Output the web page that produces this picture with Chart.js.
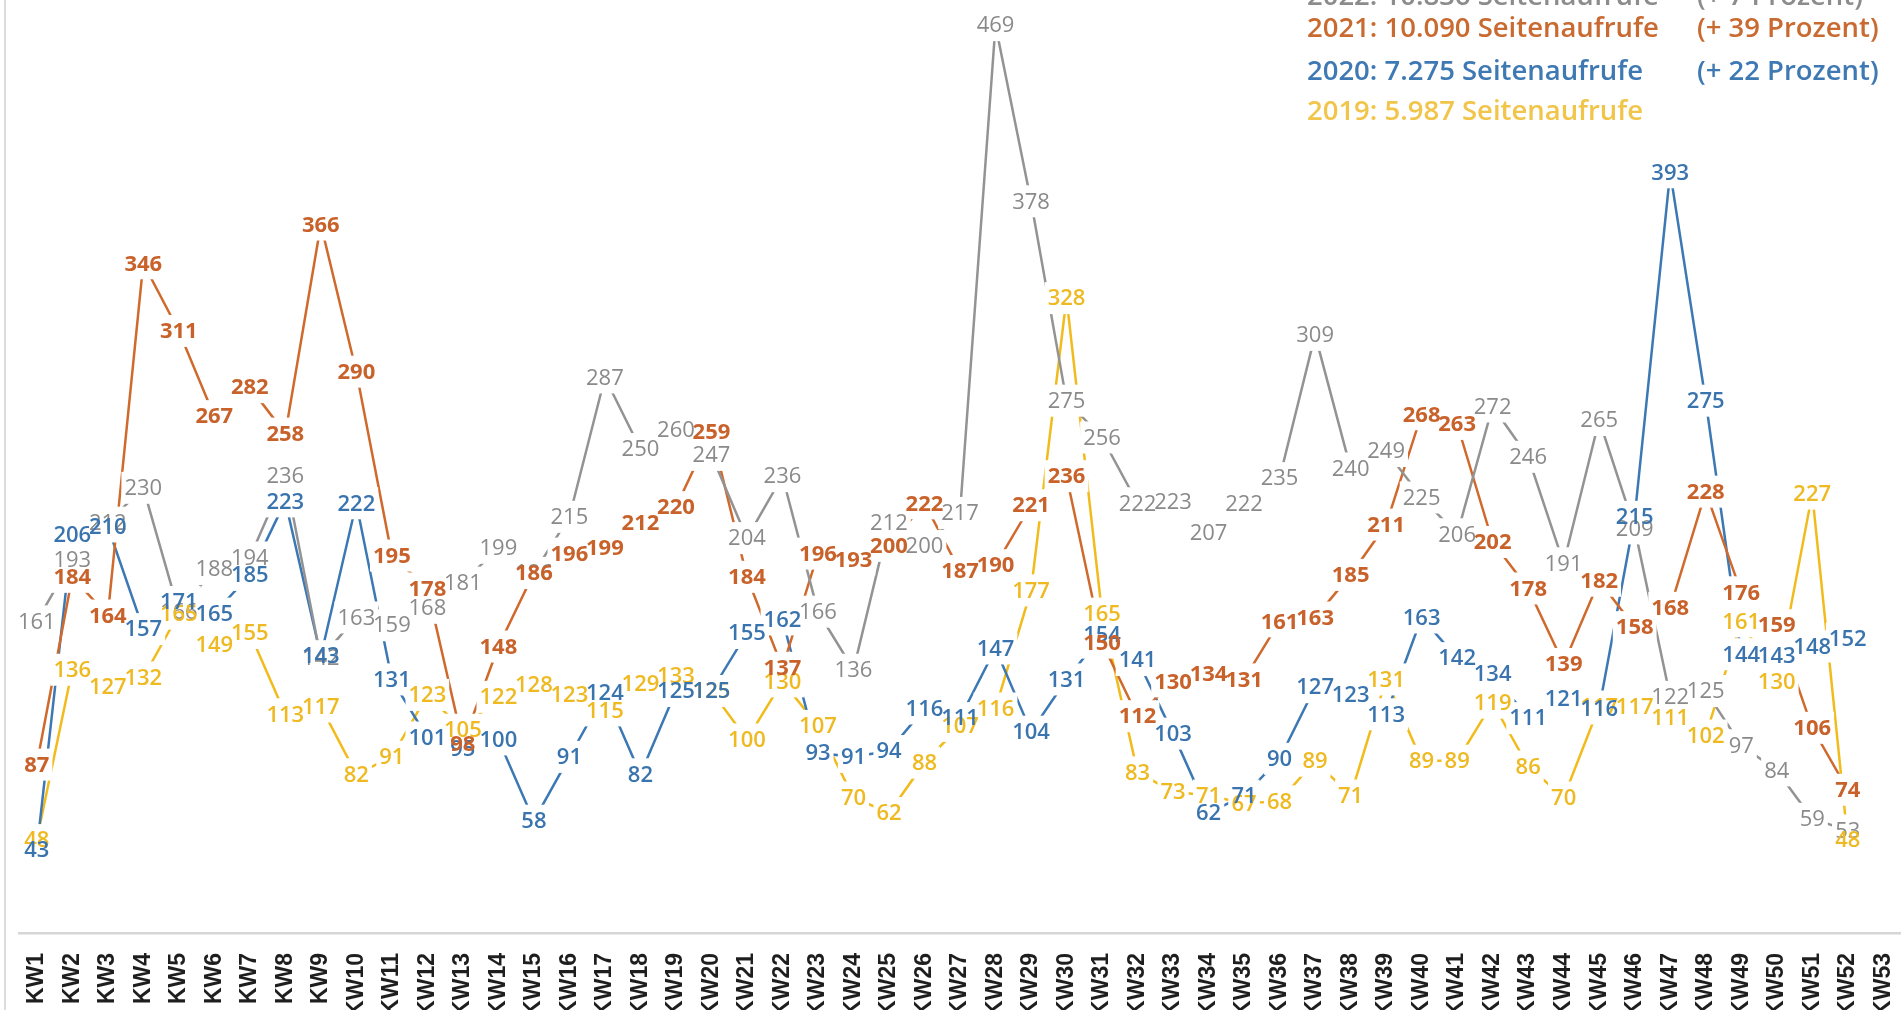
<!DOCTYPE html>
<html><head><meta charset="utf-8">
<script src="https://cdn.jsdelivr.net/npm/chart.js@4/dist/chart.umd.min.js"></script>
<style>html,body{margin:0;padding:0;background:#fff;overflow:hidden}#wrap{width:1901px;height:1010px;position:relative}canvas{display:block}</style>
</head><body><div id="wrap"><canvas id="c" width="1901" height="1010"></canvas></div>
<script>
const categories = ['KW1','KW2','KW3','KW4','KW5','KW6','KW7','KW8','KW9','KW10','KW11','KW12','KW13','KW14','KW15','KW16','KW17','KW18','KW19','KW20','KW21','KW22','KW23','KW24','KW25','KW26','KW27','KW28','KW29','KW30','KW31','KW32','KW33','KW34','KW35','KW36','KW37','KW38','KW39','KW40','KW41','KW42','KW43','KW44','KW45','KW46','KW47','KW48','KW49','KW50','KW51','KW52','KW53'];
const views2022 = [161,193,212,230,166,188,194,236,142,163,159,168,181,199,186,215,287,250,260,247,204,236,166,136,212,200,217,469,378,275,256,222,223,207,222,235,309,240,249,225,206,272,246,191,265,209,122,125,97,84,59,53,null];
const views2021 = [87,184,164,346,311,267,282,258,366,290,195,178,98,148,186,196,199,212,220,259,184,137,196,193,200,222,187,190,221,236,150,112,130,134,131,161,163,185,211,268,263,202,178,139,182,158,168,228,176,159,106,74,null];
const views2020 = [43,206,210,157,171,165,185,223,143,222,131,101,95,100,58,91,124,82,125,125,155,162,93,91,94,116,111,147,104,131,154,141,103,62,71,90,127,123,113,163,142,134,111,121,116,215,393,275,144,143,148,152,null];
const views2019 = [48,136,127,132,165,149,155,113,117,82,91,123,105,122,128,123,115,129,133,125,100,130,107,70,62,88,107,116,177,328,165,83,73,71,67,68,89,71,131,89,89,119,86,70,117,117,111,102,161,130,227,48,null];
const seriesNames = ['2022','2021','2020','2019'];
const summaryTexts = ['2022: 10.836 Seitenaufrufe','2021: 10.090 Seitenaufrufe','2020: 7.275 Seitenaufrufe','2019: 5.987 Seitenaufrufe'];
const changeTexts = ['(+ 7 Prozent)','(+ 39 Prozent)','(+ 22 Prozent)',''];

const lineColors = ['#939393','#d0692c','#3b78b4','#f2bb1c'];
const labelColors = ['#8a8a8a','#c8622a','#3a74ae','#eeb921'];
const labelWeights = ['400','700','600','600'];
const summaryColors = ['#8c8c8c','#c96a30','#3f79b3','#f1c54a'];

const labelPlugin = {
  id:'pointLabels',
  afterDatasetsDraw(chart){
    const ctx = chart.ctx;
    const order = [0,3,2,1];
    const items = [];
    order.forEach(di=>{
      const ds = chart.data.datasets[di];
      const meta = chart.getDatasetMeta(di);
      ds.data.forEach((v,i)=>{
        if(v==null) return;
        const p = meta.data[i];
        items.push({x:p.x, y:p.y, t:String(v), font:labelWeights[di]+' 22px "Open Sans"', color:labelColors[di]});
      });
    });
    ctx.save();
    items.forEach(it=>{
      ctx.font = it.font;
      const w = ctx.measureText(it.t).width;
      ctx.fillStyle = '#ffffff';
      ctx.fillRect(it.x - w/2 - 3, it.y - 16, w + 6, 32);
    });
    ctx.textAlign = 'center';
    ctx.textBaseline = 'middle';
    items.forEach(it=>{
      ctx.font = it.font;
      ctx.fillStyle = it.color;
      ctx.fillText(it.t, it.x, it.y + 1);
    });
    ctx.restore();
  }
};

const framePlugin = {
  id:'frame',
  beforeDraw(chart){
    const ctx = chart.ctx;
    ctx.save();
    ctx.fillStyle = '#ffffff';
    ctx.fillRect(0,0,chart.width,chart.height);
    ctx.strokeStyle = '#dcdcdc';
    ctx.lineWidth = 2;
    ctx.beginPath();
    ctx.moveTo(5,0); ctx.lineTo(5,chart.height);
    ctx.stroke();
    ctx.restore();
  }
};

const summaryPlugin = {
  id:'summary',
  afterDraw(chart){
    const ctx = chart.ctx;
    ctx.save();
    ctx.textBaseline = 'middle';
    ctx.textAlign = 'left';
    const ys = [-3, 29, 72, 112];
    let size = 26;
    ctx.font = '600 ' + size + 'px "Open Sans"';
    const w = ctx.measureText(summaryTexts[1]).width;
    size = size * 352 / w;
    ctx.font = '600 ' + size.toFixed(2) + 'px "Open Sans"';
    summaryTexts.forEach((t,i)=>{
      ctx.fillStyle = summaryColors[i];
      ctx.fillText(t, 1307, ys[i]);
      if(changeTexts[i]) ctx.fillText(changeTexts[i], 1697, ys[i]);
    });
    ctx.restore();
  }
};

const datasets = [views2022, views2021, views2020, views2019].map((d,i)=>({
  label: seriesNames[i], data: d, borderColor: lineColors[i], backgroundColor: lineColors[i],
  borderWidth: 2.5, pointRadius: 0, tension: 0, fill: false
}));

new Chart(document.getElementById('c').getContext('2d'), {
  type:'line',
  data:{labels:categories, datasets},
  options:{
    responsive:false, animation:false,
    layout:{padding:{left:19,right:0,top:0,bottom:0}},
    plugins:{legend:{display:false}, tooltip:{enabled:false}},
    scales:{
      x:{
        offset:true,
        grid:{display:false, drawTicks:false},
        border:{display:true, color:'#d6d6d6', width:2.5},
        ticks:{autoSkip:false, minRotation:90, maxRotation:90, padding:20, color:'#1e1e1e',
          font:{family:'"Liberation Sans", Arial, sans-serif', weight:'bold', size:23}},
        afterFit(s){ s.height = 77; s.paddingLeft = 0; s.paddingRight = 0; }
      },
      y:{display:false, min:0, max:482}
    }
  },
  plugins:[framePlugin, labelPlugin, summaryPlugin]
});
</script>
</body></html>
